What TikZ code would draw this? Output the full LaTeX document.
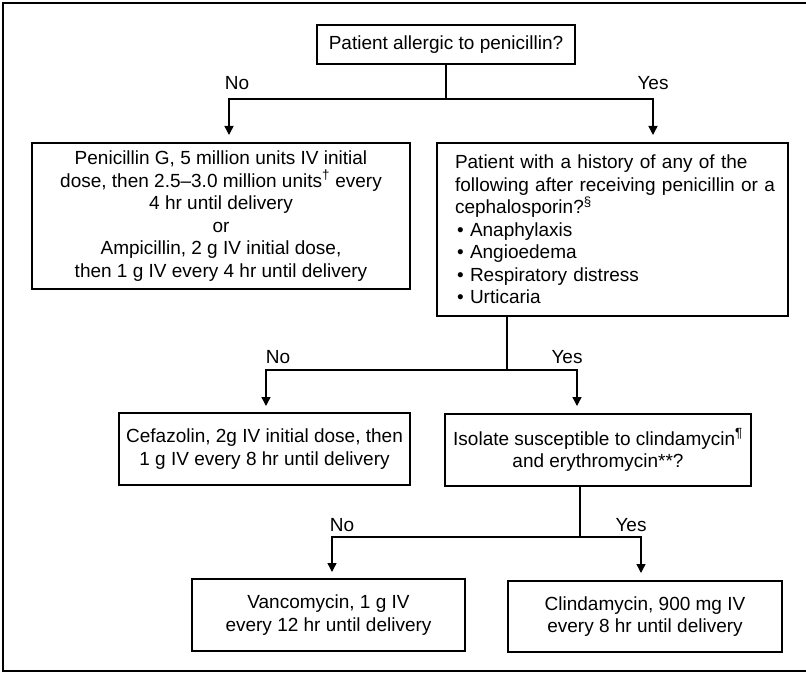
\documentclass[tikz,border=0pt]{standalone}
\usepackage{fontspec}
\setmainfont{Liberation Sans}
\usetikzlibrary{arrows.meta}
\newcommand{\histindent}{\hspace*{9bp}}
\newcommand{\histbullet}[1]{\hspace*{11bp}\makebox[13bp][l]{•}#1}
\begin{document}
\begin{tikzpicture}[x=1bp,y=-1bp,
  txt/.style={font=\fontsize{19bp}{22.5bp}\selectfont},
  box/.style={txt,draw,line width=1.7bp,inner sep=2bp,align=center},
  lbl/.style={txt,inner sep=0pt},
  conn/.style={line width=1.4bp},
  arr/.style={conn,-{Triangle[width=9bp,length=9bp]}}]
\useasboundingbox (0,0) rectangle (806,673);
\draw[line width=2bp] (806,3) -- (3,3) -- (3,671) -- (806,671);

% boxes
\node[box,minimum width=258bp,minimum height=39bp] (top) at (446,44.5) {Patient allergic to penicillin?};
\node[box,minimum width=378bp,minimum height=146bp] (pen) at (221,216)
  {Penicillin G, 5 million units IV initial\\
   dose, then 2.5--3.0 million units\textsuperscript{†} every\\
   4 hr until delivery\\
   or\\
   Ampicillin, 2 g IV initial dose,\\
   then 1 g IV every 4 hr until delivery};
\node[box,align=left,text width=333bp,inner xsep=9bp,minimum height=173bp] (hist) at (612.5,229.5)
  {\histindent Patient with a history of any of the\\
   \histindent following after receiving penicillin or a\\
   \histindent cephalosporin?\textsuperscript{§}\\
   \histbullet{Anaphylaxis}\\
   \histbullet{Angioedema}\\
   \histbullet{Respiratory distress}\\
   \histbullet{Urticaria}};
\node[box,minimum width=291bp,minimum height=72bp] (cef) at (264.5,449)
  {Cefazolin, 2g IV initial dose, then\\ 1 g IV every 8 hr until delivery};
\node[box,minimum width=306bp,minimum height=72bp] (iso) at (598,450)
  {Isolate susceptible to clindamycin\textsuperscript{¶}\\ and erythromycin**?};
\node[box,minimum width=273bp,minimum height=72bp] (van) at (328.5,615)
  {Vancomycin, 1 g IV\\ every 12 hr until delivery};
\node[box,minimum width=274bp,minimum height=71bp] (cli) at (645,616.5)
  {Clindamycin, 900 mg IV\\ every 8 hr until delivery};

% junctions and arrow ends
\coordinate (j1) at (446,99);
\coordinate (a1) at (229,135);
\coordinate (a2) at (653,135);
\coordinate (j2) at (507,370);
\coordinate (a3) at (266,406);
\coordinate (a4) at (577,406);
\coordinate (j3) at (580,537);
\coordinate (a5) at (332,572);
\coordinate (a6) at (641,573);

% connectors
\draw[conn] (top.south) -- (j1);
\draw[arr] (j1) -| (a1);
\draw[arr] (j1) -| (a2);
\draw[conn] (hist.south -| j2) -- (j2);
\draw[arr] (j2) -| (a3);
\draw[arr] (j2) -| (a4);
\draw[conn] (iso.south -| j3) -- (j3);
\draw[arr] (j3) -| (a5);
\draw[arr] (j3) -| (a6);

% labels
\node[lbl] (no1) at (237,83) {No};
\node[lbl] (yes1) at (653,83) {Yes};
\node[lbl] (no2) at (278,357) {No};
\node[lbl] (yes2) at (567,357) {Yes};
\node[lbl] (no3) at (342,525) {No};
\node[lbl] (yes3) at (631,525) {Yes};
\end{tikzpicture}
\end{document}
